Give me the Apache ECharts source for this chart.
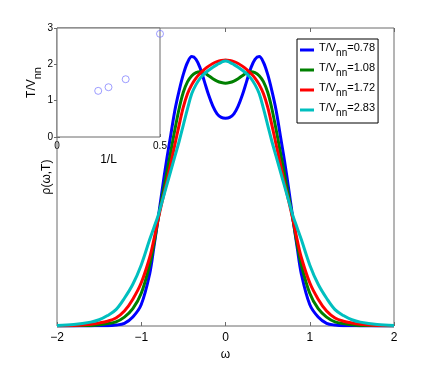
<!DOCTYPE html>
<html><head><meta charset="utf-8">
<script src="https://cdn.jsdelivr.net/npm/echarts@6/dist/echarts.min.js"></script>
<style>html,body{margin:0;padding:0;background:#fff}#c{width:436px;height:367px}</style>
</head><body><div id="c"></div>
<script>
const omega = [-2,-1.8,-1.6,-1.5,-1.4,-1.3,-1.2,-1.1,-1.0,-0.9,-0.85,-0.8,-0.75,-0.7,-0.65,-0.6,-0.55,-0.5,-0.45,-0.4,-0.35,-0.3,-0.25,-0.2,-0.15,-0.1,-0.05,0,
  0.05,0.1,0.15,0.2,0.25,0.3,0.35,0.4,0.45,0.5,0.55,0.6,0.65,0.7,0.75,0.8,0.85,0.9,1.0,1.1,1.2,1.3,1.4,1.5,1.6,1.8,2];
const rhoT078 = [0,0,0,0.001,0.001,0.003,0.009,0.03,0.072,0.175,0.265,0.36,0.46,0.555,0.64,0.725,0.79,0.845,0.885,0.904,0.895,0.865,0.82,0.775,0.738,0.712,0.70,0.697,
  0.70,0.712,0.738,0.775,0.82,0.865,0.895,0.904,0.885,0.845,0.79,0.725,0.64,0.555,0.46,0.36,0.265,0.175,0.072,0.03,0.009,0.003,0.001,0.001,0,0,0];
const rhoT108 = [0,0.001,0.002,0.004,0.008,0.014,0.03,0.058,0.11,0.205,0.275,0.358,0.435,0.51,0.585,0.66,0.73,0.785,0.82,0.84,0.85,0.853,0.849,0.84,0.83,0.822,0.817,0.815,
  0.817,0.822,0.83,0.84,0.849,0.853,0.85,0.84,0.82,0.785,0.73,0.66,0.585,0.51,0.435,0.358,0.275,0.205,0.11,0.058,0.03,0.014,0.008,0.004,0.002,0.001,0];
const rhoT172 = [0.001,0.002,0.006,0.01,0.016,0.027,0.05,0.09,0.145,0.23,0.29,0.358,0.42,0.48,0.545,0.61,0.675,0.735,0.78,0.81,0.832,0.848,0.861,0.872,0.881,0.887,0.891,0.893,
  0.891,0.887,0.881,0.872,0.861,0.848,0.832,0.81,0.78,0.735,0.675,0.61,0.545,0.48,0.42,0.358,0.29,0.23,0.145,0.09,0.05,0.027,0.016,0.01,0.006,0.002,0.001];
const rhoT283 = [0.002,0.005,0.013,0.021,0.035,0.055,0.093,0.14,0.205,0.29,0.33,0.37,0.42,0.47,0.52,0.57,0.62,0.675,0.73,0.78,0.81,0.832,0.847,0.858,0.868,0.877,0.885,0.889,
  0.885,0.877,0.868,0.858,0.847,0.832,0.81,0.78,0.73,0.675,0.62,0.57,0.52,0.47,0.42,0.37,0.33,0.29,0.205,0.14,0.093,0.055,0.035,0.021,0.013,0.005,0.002];
const tLabels = ['0.78','1.08','1.72','2.83'];
const colors = ['#0000ff','#008000','#ff0000','#00bfbf'];
const invL = [0.2,0.25,0.3333,0.5];
const Tc = [1.27,1.37,1.59,2.84];

const curves = [rhoT078,rhoT108,rhoT172,rhoT283];
const font = '"Liberation Sans", Arial, sans-serif';
const axisGray = '#6b6b6b';
const chart = echarts.init(document.getElementById('c'), null, {renderer:'canvas'});
const series = curves.map((arr,i)=>({
  name: tLabels[i], type:'line', xAxisIndex:0, yAxisIndex:0,
  data: omega.map((w,j)=>[w,arr[j]]), showSymbol:false, smooth:0.35,
  lineStyle:{color:colors[i], width:3}, itemStyle:{color:colors[i]}, z:3
}));
series.push({
  name:'inset', type:'scatter', xAxisIndex:2, yAxisIndex:2,
  data: invL.map((x,i)=>[x,Tc[i]]), symbol:'circle', symbolSize:7,
  itemStyle:{color:'rgba(255,255,255,0)', borderColor:'#7676ff', borderWidth:0.9}, z:5
});
const subRich = (big, small, off)=>({
  a:{fontSize:big, fontFamily:font, color:'#000', verticalAlign:'top'},
  s:{fontSize:small, fontFamily:font, color:'#000', verticalAlign:'bottom', padding:[off,0,0,0]}
});
const option = {
  animation:false,
  textStyle:{fontFamily:font},
  grid:[
    {left:57, top:28, width:337, height:298, show:true, borderColor:axisGray, borderWidth:1, backgroundColor:'transparent', z:1},
    {left:57, top:28, width:103, height:109, show:true, borderColor:axisGray, borderWidth:1, backgroundColor:'#fff', z:4}
  ],
  xAxis:[
    {gridIndex:0, type:'value', min:-2, max:2, interval:1, position:'bottom',
     axisLine:{show:false}, axisTick:{show:true, inside:true, length:4, lineStyle:{color:axisGray}},
     splitLine:{show:false},
     axisLabel:{margin:6, fontSize:12, color:'#000', fontFamily:font, formatter:v=>String(v).replace('-','\u2212')},
     name:'ω', nameLocation:'middle', nameGap:15, nameTextStyle:{fontSize:12, color:'#000', fontFamily:font}},
    {gridIndex:0, type:'value', min:-2, max:2, interval:1, position:'top',
     axisLine:{show:false}, axisTick:{show:true, inside:true, length:4, lineStyle:{color:axisGray}},
     axisLabel:{show:false}, splitLine:{show:false}},
    {gridIndex:1, type:'value', min:0, max:0.5, interval:0.5, position:'bottom',
     axisLine:{show:false}, axisTick:{show:true, inside:true, length:3, lineStyle:{color:axisGray}},
     splitLine:{show:false},
     axisLabel:{margin:4, fontSize:10, color:'#000', fontFamily:font},
     name:'1/L', nameLocation:'middle', nameGap:17, nameTextStyle:{fontSize:12, color:'#000', fontFamily:font}}
  ],
  yAxis:[
    {gridIndex:0, type:'value', min:0, max:1, axisLine:{show:false}, axisTick:{show:false},
     axisLabel:{show:false}, splitLine:{show:false},
     name:'ρ(ω,T)', nameLocation:'middle', nameGap:4, nameRotate:90,
     nameTextStyle:{fontSize:12, color:'#000', fontFamily:font, verticalAlign:'bottom'}},
    {gridIndex:1, type:'value', min:0, max:3, interval:1, position:'right',
     axisLine:{show:false}, axisTick:{show:true, inside:true, length:3, lineStyle:{color:axisGray}},
     axisLabel:{show:false}, splitLine:{show:false}},
    {gridIndex:1, type:'value', min:0, max:3, interval:1, position:'left',
     axisLine:{show:false}, axisTick:{show:true, inside:true, length:3, lineStyle:{color:axisGray}},
     axisLabel:{margin:4, fontSize:10, color:'#000', fontFamily:font}, splitLine:{show:false},
     name:'{a|T/V}{s|nn}', nameLocation:'middle', nameGap:12, nameRotate:90,
     nameTextStyle:{color:'#000', fontFamily:font, verticalAlign:'bottom', rich: subRich(12, 11, 7)}}
  ],
  legend:{
    data: tLabels, orient:'vertical', left:297, top:39, width:83,
    backgroundColor:'#fff', borderColor:'#000', borderWidth:1, padding:[3,3,5,3],
    itemWidth:14, itemHeight:3, icon:'rect', itemGap:4,
    formatter: n=>'{a|T/V}{s|nn}{a|='+n+'}',
    textStyle:{fontFamily:font, color:'#000', rich: subRich(11, 10, 6)}
  },
  series: series
};
chart.setOption(option);
</script></body></html>
